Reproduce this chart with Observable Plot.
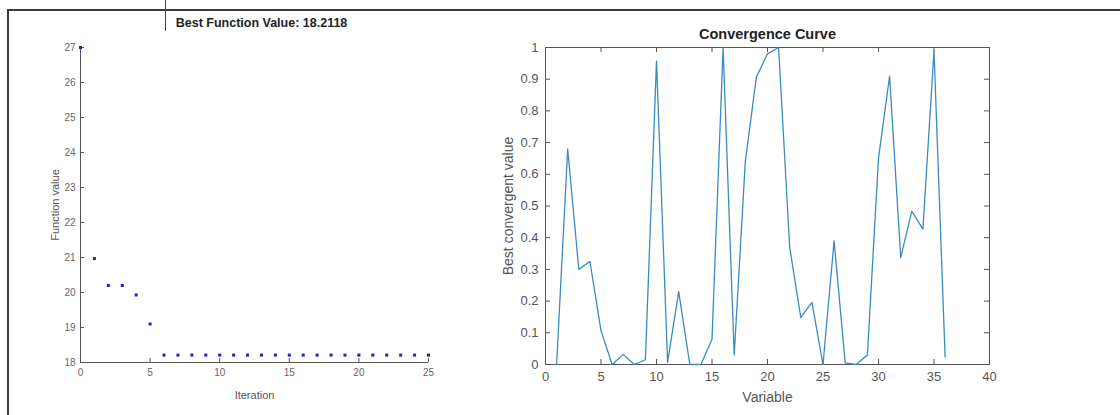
<!DOCTYPE html>
<html><head><meta charset="utf-8">
<script src="https://cdn.jsdelivr.net/npm/d3@7"></script>
<script src="https://cdn.jsdelivr.net/npm/@observablehq/plot@0.6"></script>
<style>
html,body{margin:0;padding:0;background:#fff;width:1120px;height:415px;overflow:hidden;}
#wrap{position:relative;width:1120px;height:415px;}
.frameTop{position:absolute;left:7px;top:9px;width:1113px;height:2px;background:#3a3a3a;}
.frameLeft{position:absolute;left:7px;top:9px;width:2px;height:406px;background:#3a3a3a;}
.mark1{position:absolute;left:165px;top:0;width:1px;height:31px;background:#444;}
#left{position:absolute;left:0;top:0;}
#right{position:absolute;left:470px;top:0;}
</style></head>
<body><div id="wrap">
<div class="frameTop"></div><div class="frameLeft"></div><div class="mark1"></div>
<div id="left"></div><div id="right"></div>
</div>
<script>
// ---- data: left chart (function value per iteration)
const iteration = [0,1,2,3,4,5,6,7,8,9,10,11,12,13,14,15,16,17,18,19,20,21,22,23,24,25];
const functionValue = [27,20.97,20.2,20.2,19.93,19.1,18.2118,18.2118,18.2118,18.2118,18.2118,18.2118,18.2118,18.2118,18.2118,18.2118,18.2118,18.2118,18.2118,18.2118,18.2118,18.2118,18.2118,18.2118,18.2118,18.2118];
const iterTicks = [0,5,10,15,20,25];
const fvalTicks = [18,19,20,21,22,23,24,25,26,27];
const leftTitle = "Best Function Value: 18.2118";
const leftXLabel = "Iteration";
const leftYLabel = "Function value";

// ---- data: right chart (convergence curve)
const variable = [1,2,3,4,5,6,7,8,9,10,11,12,13,14,15,16,17,18,19,20,21,22,23,24,25,26,27,28,29,30,31,32,33,34,35,36];
const bestValue = [0,0.68,0.30,0.325,0.107,0,0.032,0,0.015,0.957,0.007,0.23,0,0,0.08,1.0,0.03,0.64,0.907,0.98,1.0,0.37,0.148,0.196,0,0.39,0.005,0,0.03,0.65,0.91,0.337,0.484,0.427,0.99,0.024];
const varTicks = [0,5,10,15,20,25,30,35,40];
const bestTicks = [0,0.1,0.2,0.3,0.4,0.5,0.6,0.7,0.8,0.9,1];
const rightTitle = "Convergence Curve";
const rightXLabel = "Variable";
const rightYLabel = "Best convergent value";

const FONT = "'Liberation Sans', Arial, Helvetica, sans-serif";

const leftData = iteration.map((d,i)=>({x:d, y:functionValue[i]}));
const rightData = variable.map((d,i)=>({x:d, y:bestValue[i]}));

// left chart geometry
const LW = 470, LH = 415, LmL = 80, LmR = 42, LmT = 47, LmB = 53;
const L = Plot.plot({
  width: LW, height: LH,
  marginLeft: LmL, marginRight: LmR, marginTop: LmT, marginBottom: LmB,
  style: {fontFamily: FONT, fontSize: "10px", color: "#555", background: "transparent", overflow: "visible"},
  x: {domain: [0,25], ticks: iterTicks},
  y: {domain: [18,27], ticks: fvalTicks},
  marks: [
    Plot.ruleY([18], {stroke: "#555"}),
    Plot.ruleX([0], {stroke: "#555"}),
    Plot.tickX(iterTicks, {x: d=>d, insetTop: (LH-LmT-LmB)-4, stroke: "#555"}),
    Plot.tickY(fvalTicks, {y: d=>d, insetRight: (LW-LmL-LmR)-4, stroke: "#555"}),
    Plot.axisX(iterTicks, {tickSize: 0, tickPadding: 6, fill: "#666", fontSize: 10, label: null}),
    Plot.axisY(fvalTicks, {tickSize: 0, tickPadding: 5, fill: "#666", fontSize: 10, label: null}),
    Plot.dot(leftData, {x: "x", y: "y", symbol: "square", r: 1.7, fill: "#2020d0", stroke: "none"}),
    Plot.text([leftXLabel], {frameAnchor: "bottom", dy: 33, lineAnchor: "middle", text: d=>d, fontSize: 11, fill: "#555"}),
    Plot.text([leftYLabel], {frameAnchor: "left", dx: -25, rotate: -90, textAnchor: "middle", lineAnchor: "middle", text: d=>d, fontSize: 11, fill: "#555"}),
    Plot.text([leftTitle], {frameAnchor: "top", dx: 7, dy: -25, lineAnchor: "middle", text: d=>d, fontWeight: "bold", fontSize: 12.5, fill: "#222"})
  ]
});
document.getElementById("left").appendChild(L);

// right chart geometry
const RW = 650, RH = 415, RmL = 75, RmR = 131, RmT = 47, RmB = 51;
const pw = RW-RmL-RmR, ph = RH-RmT-RmB;
const R = Plot.plot({
  width: RW, height: RH,
  marginLeft: RmL, marginRight: RmR, marginTop: RmT, marginBottom: RmB,
  style: {fontFamily: FONT, fontSize: "13px", color: "#444", background: "transparent", overflow: "visible"},
  x: {domain: [0,40], ticks: varTicks},
  y: {domain: [0,1], ticks: bestTicks},
  marks: [
    Plot.frame({stroke: "#555"}),
    Plot.tickX(varTicks, {x: d=>d, insetTop: ph-5, stroke: "#555"}),
    Plot.tickX(varTicks, {x: d=>d, insetBottom: ph-5, stroke: "#555"}),
    Plot.tickY(bestTicks, {y: d=>d, insetRight: pw-5, stroke: "#555"}),
    Plot.tickY(bestTicks, {y: d=>d, insetLeft: pw-5, stroke: "#555"}),
    Plot.axisX(varTicks, {tickSize: 0, tickPadding: 7, fill: "#555", fontSize: 13, label: null}),
    Plot.axisY(bestTicks, {tickSize: 0, tickPadding: 7, fill: "#555", fontSize: 13, tickFormat: d => d===0||d===1 ? String(d) : d.toFixed(1), label: null}),
    Plot.line(rightData, {x: "x", y: "y", stroke: "#3a8cc0", strokeWidth: 1.3}),
    Plot.text([rightXLabel], {frameAnchor: "bottom", dy: 33, lineAnchor: "middle", text: d=>d, fontSize: 14, fill: "#555"}),
    Plot.text([rightYLabel], {frameAnchor: "left", dx: -37, rotate: -90, textAnchor: "middle", lineAnchor: "middle", text: d=>d, fontSize: 14, fill: "#555"}),
    Plot.text([rightTitle], {frameAnchor: "top", dy: -13, lineAnchor: "middle", text: d=>d, fontWeight: "bold", fontSize: 14.5, fill: "#222"})
  ]
});
document.getElementById("right").appendChild(R);
</script>
</body></html>
